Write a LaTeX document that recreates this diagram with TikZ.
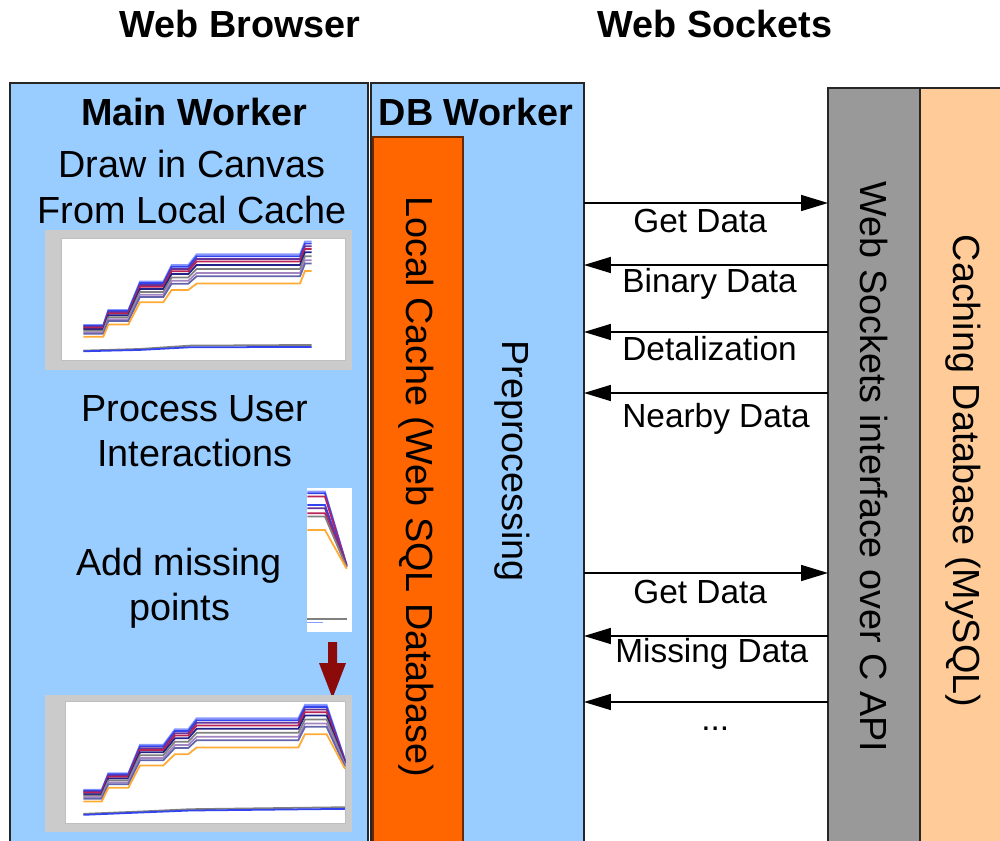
\documentclass[tikz,border=0pt]{standalone}
\usepackage{fontspec}
\setmainfont{Liberation Sans}
\usetikzlibrary{arrows.meta}
\definecolor{lblue}{HTML}{99CCFF}
\definecolor{cacheor}{HTML}{FF6600}
\definecolor{wsgray}{HTML}{999999}
\definecolor{peach}{HTML}{FFCC99}
\definecolor{frameg}{HTML}{CBCBCB}
\definecolor{darkred}{HTML}{8B0A0A}
\definecolor{lineblue}{HTML}{3344EE}
\definecolor{linelb}{HTML}{8899FF}
\definecolor{linepur}{HTML}{663399}
\definecolor{linered}{HTML}{BB2255}
\definecolor{linedb}{HTML}{222288}
\definecolor{lineor}{HTML}{FFAA33}
\begin{document}
\begin{tikzpicture}[x=0.02cm,y=-0.02cm,
  box/.style={draw=black!85, line width=0.9pt, inner sep=0pt, outer sep=0pt, anchor=north west},
  txt/.style={font=\fontsize{21.5}{26}\selectfont, inner sep=0pt, anchor=base},
  ttl/.style={font=\fontsize{21.5}{26}\selectfont\bfseries, inner sep=0pt, anchor=base},
  lbl/.style={font=\fontsize{19}{23}\selectfont, inner sep=0pt, anchor=base west},
  vtxt/.style={font=\fontsize{21.5}{26}\selectfont, rotate=-90, inner sep=0pt},
  arr/.style={line width=0.9pt, -{Triangle[length=0.54cm,width=0.32cm]}},
  cl/.style={line width=1pt}
]
\clip (0,0) rectangle (1000,841);
\fill[white] (0,0) rectangle (1000,841);

% titles
\node[ttl] (tbrowser) at (240,38) {Web Browser};
\node[ttl] (tsockets) at (715,38) {Web Sockets};

% boxes
\node[box, fill=lblue, minimum width=7.16cm, minimum height=15.6cm] (main) at (10,83) {};
\node[box, fill=lblue, minimum width=4.26cm, minimum height=15.6cm] (db) at (371,83) {};
\node[box, draw=black!60!cacheor, fill=cacheor, minimum width=1.80cm, minimum height=15cm] (cache) at (373,137) {};
\node[box, fill=wsgray, minimum width=1.84cm, minimum height=16cm] (ws) at (828,88) {};
\node[box, fill=peach, minimum width=2.4cm, minimum height=16cm] (mysql) at (920,88) {};

% box titles
\node[ttl] (tmain) at (194,126) {Main Worker};
\node[ttl] (tdb) at (476,126) {DB Worker};

% main worker texts
\node[txt] (draw1) at (192,178) {Draw in Canvas};
\node[txt] (draw2) at (192,223) {From Local Cache};
\node[txt] (proc1) at (195,421) {Process User};
\node[txt] (proc2) at (195,466) {Interactions};
\node[txt] (add1) at (179,575) {Add missing};
\node[txt] (add2) at (180,620) {points};

% vertical texts
\node[vtxt] (vcache) at (416,487) {Local Cache (Web SQL Database)};
\node[vtxt] (vpre) at (512,461) {Preprocessing};
\node[vtxt] (vws) at (874,467) {Web Sockets interface over C API};
\node[vtxt] (vmy) at (963,471) {Caching Database (MySQL)};

% chart 1
\begin{scope}[xshift=0.8cm, yshift=-4.5cm, x=0.006667cm, y=-0.006667cm]
  \fill[frameg] (15,15) rectangle (935,435);
  \fill[white] (65,40) rectangle (915,405);
  \draw[gray!50, line width=0.3pt] (65,40) rectangle (915,405);
  \foreach \o/\c in {0/linelb, 6/lineblue, 14/linepur, 22/linered, 32/linedb, 44/gray, 56/linepur!60, 66/linedb!70, 88/lineor} {
    \draw[\c, cl] (130,{300+0.4*\o}) -- (190,{300+0.4*\o}) -- (205,{255+0.5*\o}) -- (265,{255+0.5*\o})
      -- (300,{170+0.7*\o}) -- (370,{170+0.7*\o}) -- (395,{120+0.85*\o}) -- (445,{120+0.85*\o})
      -- (470,{88+\o}) -- (780,{88+\o}) -- (795,{50+\o}) -- (815,{50+\o});
  }
  \draw[gray, cl] (130,377) -- (300,372) -- (450,362) -- (815,360);
  \draw[lineblue, cl] (130,379) -- (300,375) -- (450,367) -- (815,366);
\end{scope}

% small chart
\begin{scope}[xshift=6cm, yshift=-9.6cm, x=0.006667cm, y=-0.006667cm]
  \fill[white] (22,25) rectangle (155,455);
  \foreach \o/\c in {0/linelb, 5/lineblue, 15/linered, 40/lineblue, 50/linepur, 65/linered, 75/gray, 115/lineor} {
    \draw[\c, cl] (22,{35+\o}) -- (75,{35+\o}) -- (140,{255+0.1*\o});
  }
  \draw[gray, cl] (22,418) -- (140,418);
  \draw[linelb, cl] (22,428) -- (70,428);
\end{scope}

% red arrow
\fill[darkred] (328,642) -- (337,642) -- (337,663) -- (346,663) -- (332.5,698) -- (319,663) -- (328,663) -- cycle;

% chart 2
\begin{scope}[xshift=0.8cm, yshift=-13.6cm, x=0.006667cm, y=-0.006667cm]
  \fill[frameg] (15,45) rectangle (935,455);
  \fill[white] (75,65) rectangle (915,430);
  \draw[gray!50, line width=0.3pt] (75,65) rectangle (915,430);
  \foreach \o/\c in {0/linelb, 6/lineblue, 14/linepur, 22/linered, 32/linedb, 44/gray, 56/linepur!60, 66/linedb!70, 88/lineor} {
    \draw[\c, cl] (130,{330+0.4*\o}) -- (185,{330+0.4*\o}) -- (205,{280+0.5*\o}) -- (265,{280+0.5*\o})
      -- (300,{195+0.7*\o}) -- (370,{195+0.7*\o}) -- (405,{148+0.85*\o}) -- (445,{148+0.85*\o})
      -- (470,{115+\o}) -- (775,{115+\o}) -- (795,{75+\o}) -- (860,{75+\o}) -- (915,{240+0.3*\o});
  }
  \draw[gray, cl] (130,402) -- (300,395) -- (450,388) -- (915,382);
  \draw[lineblue, cl] (130,405) -- (300,398) -- (450,392) -- (915,387);
\end{scope}

% arrow rows
\coordinate (y1) at (0,203);
\coordinate (y2) at (0,265);
\coordinate (y3) at (0,332);
\coordinate (y4) at (0,393);
\coordinate (y5) at (0,573);
\coordinate (y6) at (0,636);
\coordinate (y7) at (0,702);

\draw[arr] (db.east |- y1) -- (ws.west |- y1);
\draw[arr] (ws.west |- y2) -- (db.east |- y2);
\draw[arr] (ws.west |- y3) -- (db.east |- y3);
\draw[arr] (ws.west |- y4) -- (db.east |- y4);
\draw[arr] (db.east |- y5) -- (ws.west |- y5);
\draw[arr] (ws.west |- y6) -- (db.east |- y6);
\draw[arr] (ws.west |- y7) -- (db.east |- y7);

\node[lbl] (l1) at (633,233) {Get Data};
\node[lbl] (l2) at (622,292) {Binary Data};
\node[lbl] (l3) at (622,360) {Detalization};
\node[lbl] (l4) at (622,427) {Nearby Data};
\node[lbl] (l5) at (633,603) {Get Data};
\node[lbl] (l6) at (615,662) {Missing Data};
\node[lbl] (l7) at (701,730) {...};
\end{tikzpicture}
\end{document}
